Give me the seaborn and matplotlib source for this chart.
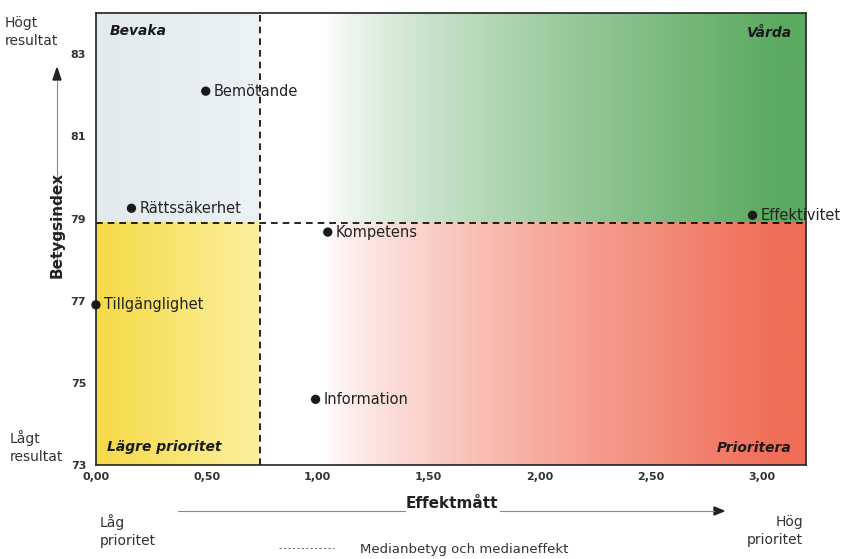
import matplotlib.pyplot as plt
import seaborn as sns
import numpy as np
import pandas as pd

# data
areas = ["Bemötande", "Rättssäkerhet", "Kompetens", "Tillgänglighet", "Information", "Effektivitet"]
effekt = [0.495, 0.16, 1.045, 0.0, 0.99, 2.96]
betyg = [82.1, 79.25, 78.67, 76.9, 74.6, 79.08]
median_effekt = 0.74
median_betyg = 78.9
x_ticks = [0, 0.5, 1.0, 1.5, 2.0, 2.5, 3.0]
y_ticks = [73, 75, 77, 79, 81, 83]

df = pd.DataFrame({"omrade": areas, "effekt": effekt, "betyg": betyg})

sns.set_style("white")
plt.rcParams["font.family"] = ["DejaVu Sans"]

fig = plt.figure(figsize=(8.44, 5.59), dpi=100)
ax = fig.add_axes([0.1137, 0.168, 0.841, 0.8086])

xmax, ymin, ymax = 3.2, 73, 84


def gradient(ax, x0, x1, y0, y1, c_left, c_right, stops=(0.0, 1.0), gamma=1.0):
    t = np.linspace(0, 1, 256)
    t = np.clip((t - stops[0]) / (stops[1] - stops[0]), 0, 1) ** gamma
    cl = np.array(c_left) / 255.0
    cr = np.array(c_right) / 255.0
    img = cl[None, :] * (1 - t[:, None]) + cr[None, :] * t[:, None]
    ax.imshow(img[None, :, :], extent=[x0, x1, y0, y1], aspect="auto",
              interpolation="bicubic", zorder=0)


gradient(ax, 0, median_effekt, median_betyg, ymax, (226, 234, 238), (236, 242, 243))
gradient(ax, 0, median_effekt, ymin, median_betyg, (245, 218, 70), (252, 240, 160))
gradient(ax, median_effekt, xmax, median_betyg, ymax, (255, 255, 255), (92, 170, 96),
         stops=(0.12, 0.95), gamma=0.75)
gradient(ax, median_effekt, xmax, ymin, median_betyg, (255, 255, 255), (240, 110, 88),
         stops=(0.12, 0.95), gamma=0.75)

ax.axvline(median_effekt, color="black", ls=(0, (4, 3)), lw=1.2, zorder=2)
ax.axhline(median_betyg, color="black", ls=(0, (4, 3)), lw=1.2, zorder=2)

sns.scatterplot(data=df, x="effekt", y="betyg", color="#1a1a1a", s=45,
                edgecolor="none", ax=ax, zorder=5, clip_on=False, legend=False)
for _, r in df.iterrows():
    ax.annotate(r["omrade"], (r["effekt"], r["betyg"]), xytext=(6, 0),
                textcoords="offset points", va="center", ha="left",
                fontsize=10.5, color="#222222", zorder=6)

ax.set_xlim(0, xmax)
ax.set_ylim(ymin, ymax)
ax.set_xticks(x_ticks)
ax.set_xticklabels([f"{v:.2f}".replace(".", ",") for v in x_ticks])
ax.set_yticks(y_ticks)
ax.set_yticklabels([str(v) for v in y_ticks])
ax.tick_params(length=0, labelsize=8, pad=5)
ax.tick_params(axis="y", pad=7)
for lab in ax.get_xticklabels() + ax.get_yticklabels():
    lab.set_fontweight("bold")
    lab.set_color("#333333")
ax.set_xlabel("")
ax.set_ylabel("")
for sp in ax.spines.values():
    sp.set_color("#222222")
    sp.set_linewidth(1.2)

# quadrant labels
qkw = dict(fontsize=10, fontweight="bold", fontstyle="italic", color="#1a1a1a",
           transform=ax.transAxes, zorder=6)
ax.text(0.02, 0.96, "Bevaka", ha="left", va="center", **qkw)
ax.text(0.98, 0.955, "Vårda", ha="right", va="center", **qkw)
ax.text(0.016, 0.04, "Lägre prioritet", ha="left", va="center", **qkw)
ax.text(0.98, 0.038, "Prioritera", ha="right", va="center", **qkw)

W, H = 844, 559


def fx(px):
    return px / W


def fy(py):
    return 1 - py / H


# y axis side texts
fig.text(fx(5), fy(32), "Högt\nresultat", fontsize=10, color="#333333", va="center", ha="left", linespacing=1.4)
fig.text(fx(10), fy(447), "Lågt\nresultat", fontsize=10, color="#333333", va="center", ha="left", linespacing=1.4)
fig.text(fx(57), fy(225), "Betygsindex", fontsize=11, fontweight="bold", color="#222222",
         rotation=90, va="center", ha="center")
fig.add_artist(plt.Line2D([fx(57), fx(57)], [fy(265), fy(80)], color="#888888", lw=0.8))
fig.patches.append(plt.Polygon([[fx(53), fy(80)], [fx(61), fy(80)], [fx(57), fy(68)]],
                               closed=True, color="#222222", transform=fig.transFigure))

# x axis side texts
fig.text(fx(452), fy(503), "Effektmått", fontsize=11, fontweight="bold", color="#222222",
         va="center", ha="center")
fig.add_artist(plt.Line2D([fx(178), fx(405)], [fy(511), fy(511)], color="#888888", lw=0.8))
fig.add_artist(plt.Line2D([fx(500), fx(714)], [fy(511), fy(511)], color="#888888", lw=0.8))
fig.patches.append(plt.Polygon([[fx(714), fy(507)], [fx(714), fy(515)], [fx(724), fy(511)]],
                               closed=True, color="#222222", transform=fig.transFigure))
fig.text(fx(100), fy(531), "Låg\nprioritet", fontsize=10, color="#333333", va="center", ha="left", linespacing=1.4)
fig.text(fx(803), fy(531), "Hög\nprioritet", fontsize=10, color="#333333", va="center", ha="right",
         linespacing=1.4, multialignment="right")

# legend
fig.add_artist(plt.Line2D([fx(279), fx(334)], [fy(548), fy(548)], color="#777777", lw=0.8, ls=(0, (2, 2))))
fig.text(fx(360), fy(549), "Medianbetyg och medianeffekt", fontsize=9.5, color="#333333",
         va="center", ha="left")

fig.savefig("out.png", dpi=100)
